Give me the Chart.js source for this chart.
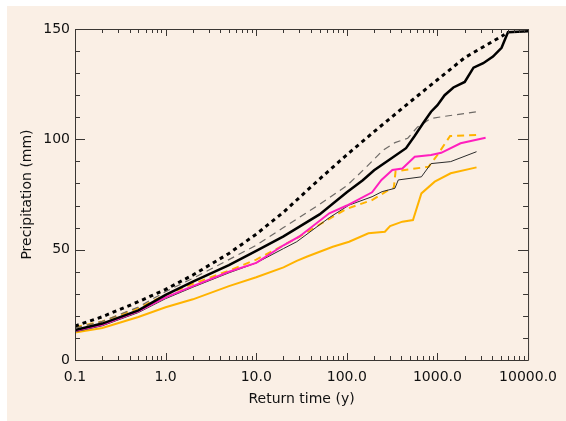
<!DOCTYPE html>
<html>
<head>
<meta charset="utf-8">
<script src="https://cdn.jsdelivr.net/npm/chart.js@4/dist/chart.umd.min.js"></script>
<style>
    html, body { margin: 0; padding: 0; background: #ffffff; }
    #box { position: absolute; left: 7px; top: 6px; width: 559px; height: 415px; background: #faefe5; }
</style>
</head>
<body>
<div id="box"><canvas id="chart" width="559" height="415"></canvas></div>
<script>
// tick labels
const xTickValues = [0.1, 1, 10, 100, 1000, 10000];
const xTickLabels = ["0.1", "1.0", "10.0", "100.0", "1000.0", "10000.0"];
const yTickValues = [0, 50, 100, 150];

// thick black dotted
const dottedX = [0.1, 0.2, 0.5, 1, 2, 5, 10, 20, 50, 100, 200, 500, 1000, 2000, 5500];
const dottedY = [15.4, 19.6, 26.4, 32, 38.5, 48.3, 57, 67, 82, 93, 103.5, 117, 127, 137, 147.5];

// thick black solid
const blackX = [0.1, 0.2, 0.5, 1, 2, 5, 10, 20, 50, 100, 150, 200, 300, 450, 560, 700, 850, 1000, 1200, 1500, 2000, 2500, 3200, 4100, 5100, 6000, 10000];
const blackY = [13.6, 16.5, 22.5, 29.5, 35.5, 43, 49.5, 56, 66, 76, 81.5, 86, 91, 96, 101.5, 107.5, 112.5, 115.5, 120, 123.5, 126, 132.5, 134.5, 137.5, 141.5, 148.5, 149];

// thin grey dashed
const greyX = [0.1, 0.2, 0.5, 1, 2, 5, 10, 20, 50, 100, 160, 250, 340, 470, 600, 850, 1500, 2700];
const greyY = [14.5, 17.5, 24, 31, 37, 45.5, 52, 60, 70.5, 79, 87, 95, 98.5, 100.5, 105.5, 109.5, 111, 112.5];

// magenta
const magentaX = [0.1, 0.2, 0.5, 1, 2, 5, 10, 20, 30, 64, 100, 190, 241, 318, 410, 562, 850, 1100, 1800, 3400];
const magentaY = [13.3, 16, 22, 28.4, 33.5, 40, 44, 52, 56, 66.5, 70, 76, 81.6, 86.1, 86.8, 92.1, 92.9, 93.9, 98.2, 100.7];

// thin black
const thinX = [0.1, 0.2, 0.5, 1, 2, 5, 10, 20, 28, 64, 106, 190, 245, 339, 370, 665, 850, 1400, 2700];
const thinY = [12.8, 15.5, 21.5, 27.8, 33, 39.5, 44, 50.5, 53.6, 64.5, 70.2, 74, 76.3, 77.8, 81.6, 83, 89, 89.9, 94.4];

// orange dashed
const orangeDashX = [0.1, 0.2, 0.5, 1, 2, 5, 10, 20, 28, 64, 100, 190, 288, 330, 345, 800, 1000, 1250, 1380, 2700];
const orangeDashY = [14.8, 17.5, 23.5, 29.5, 34.5, 40.5, 45.5, 52, 55.2, 64, 68.5, 72.5, 77, 78, 85.5, 87.6, 92.9, 98.9, 101.5, 102];

// orange solid
const orangeX = [0.1, 0.2, 0.5, 1, 2, 5, 10, 20, 28, 36, 70, 106, 173, 263, 300, 410, 537, 665, 933, 1400, 2700];
const orangeY = [12.4, 14.5, 19.5, 23.9, 27.5, 33.5, 37.5, 42, 44.9, 46.8, 51.3, 53.6, 57.4, 58.1, 60.7, 62.7, 63.4, 75.5, 80.8, 84.6, 87.3];

function pts(xs, ys) {
    return xs.map((x, i) => ({x: x, y: ys[i]}));
}

function line(data, color, width, dash) {
    return {
        data: data,
        borderColor: color,
        borderWidth: width,
        borderDash: dash || [],
        borderCapStyle: 'butt',
        pointRadius: 0,
        tension: 0,
        fill: false
    };
}

// ticks pointing into the plot on all four sides, plus the frame
const frameTicks = {
    id: 'frameTicks',
    afterDraw(chart) {
        const ctx = chart.ctx;
        const a = chart.chartArea;
        const xs = chart.scales.x;
        const ys = chart.scales.y;
        ctx.save();
        ctx.strokeStyle = '#3a3633';
        ctx.lineWidth = 1;
        ctx.beginPath();
        ctx.rect(a.left + 0.5, a.top + 0.5, a.right - a.left, a.bottom - a.top);
        for (let d = 0.1; d <= 10000; d *= 10) {
            for (let k = 1; k <= 9; k++) {
                const v = k * d;
                if (v > 10000 * 1.001) break;
                const len = k === 1 ? 7 : 4;
                const px = Math.round(xs.getPixelForValue(v)) + 0.5;
                ctx.moveTo(px, a.bottom);
                ctx.lineTo(px, a.bottom - len);
                ctx.moveTo(px, a.top);
                ctx.lineTo(px, a.top + len);
            }
        }
        for (let v = 0; v <= 150; v += 10) {
            const len = v % 50 === 0 ? 10 : 5;
            const py = Math.round(ys.getPixelForValue(v)) + 0.5;
            ctx.moveTo(a.left, py);
            ctx.lineTo(a.left + len, py);
            ctx.moveTo(a.right, py);
            ctx.lineTo(a.right - len, py);
        }
        ctx.stroke();
        ctx.restore();
    }
};

const font = {family: 'DejaVu Sans', size: 14};

new Chart(document.getElementById('chart'), {
    type: 'line',
    data: {
        datasets: [
            line(pts(dottedX, dottedY), '#000000', 3, [4, 4]),
            line(pts(blackX, blackY), '#000000', 2.5),
            line(pts(greyX, greyY), '#6e6a66', 1.2, [7, 5]),
            line(pts(magentaX, magentaY), '#ff1fbe', 2),
            line(pts(thinX, thinY), '#2b2b2b', 1),
            line(pts(orangeDashX, orangeDashY), '#ffb300', 2, [7, 5]),
            line(pts(orangeX, orangeY), '#ffb300', 2)
        ]
    },
    options: {
        responsive: false,
        animation: false,
        events: [],
        layout: {padding: {top: 23, right: 31, left: 0, bottom: 0}},
        plugins: {legend: {display: false}, tooltip: {enabled: false}},
        scales: {
            x: {
                type: 'logarithmic',
                min: 0.1,
                max: 10000,
                grid: {display: false, drawTicks: false},
                border: {display: false},
                afterBuildTicks: scale => {
                    scale.ticks = xTickValues.map(v => ({value: v}));
                },
                afterFit: scale => { scale.height = 61; },
                ticks: {
                    autoSkip: false,
                    maxRotation: 0,
                    padding: 9,
                    color: '#111111',
                    font: font,
                    callback: function (value) {
                        const i = xTickValues.indexOf(value);
                        return i >= 0 ? xTickLabels[i] : '';
                    }
                },
                title: {display: true, text: 'Return time (y)', color: '#111111', font: font, padding: {top: 4, bottom: 13}}
            },
            y: {
                type: 'linear',
                min: 0,
                max: 150,
                grid: {display: false, drawTicks: false},
                border: {display: false},
                afterBuildTicks: scale => {
                    scale.ticks = yTickValues.map(v => ({value: v}));
                },
                afterFit: scale => { scale.width = 68; },
                ticks: {padding: 5, color: '#111111', font: font},
                title: {display: true, text: 'Precipitation (mm)', color: '#111111', font: font, padding: {top: 12, bottom: 0}}
            }
        }
    },
    plugins: [frameTicks]
});
</script>
</body>
</html>
